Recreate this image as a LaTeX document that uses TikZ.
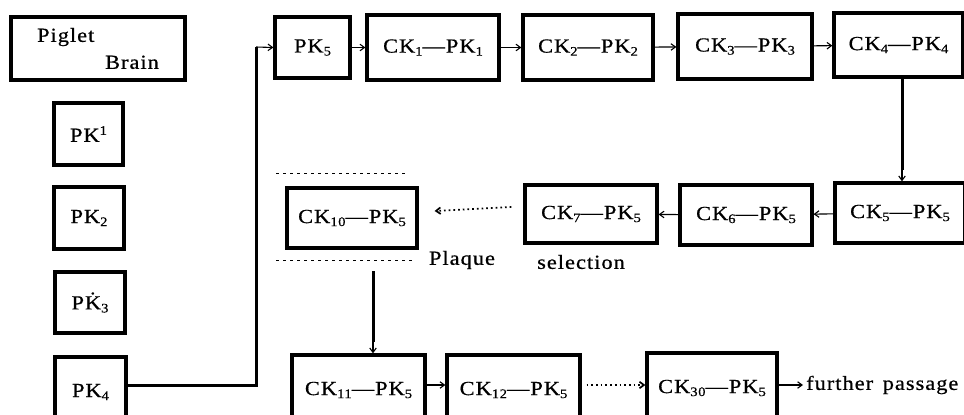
\documentclass[tikz,border=0pt]{standalone}
\usepackage{fontspec}
\setmainfont{Liberation Serif}[LetterSpace=5, FakeStretch=1.12, FakeBold=0.6]
\usetikzlibrary{arrows.meta}
\newcommand\lo[1]{\raisebox{-3pt}{\fontsize{13}{13}\selectfont #1}}
\newcommand\hi[1]{\raisebox{7pt}{\fontsize{13}{13}\selectfont #1}}
\begin{document}
\begin{tikzpicture}[x=1pt,y=-1pt,
  font=\fontsize{20}{24}\selectfont,
  box/.style={draw, line width=3.2pt, inner sep=0pt},
  arr/.style={line width=1.1pt, -{Straight Barb[length=4.5pt,width=6.5pt]}},
  heavy/.style={line width=3pt},
  dotarr/.style={line width=1.7pt, dash pattern=on 1.7pt off 3pt, -{Straight Barb[length=4.5pt,width=6.5pt]}},
  guide/.style={line width=0.9pt, dash pattern=on 3pt off 4pt}]
\useasboundingbox (0,0) rectangle (964,415);
\clip (0,0) rectangle (964,415);
% left column
\node[box, minimum width=174pt, minimum height=63pt, align=left] (brain) at (98,48.5) {Piglet\\[3pt]\hspace*{68pt}Brain};
\node[box, minimum width=69pt, minimum height=62pt] (pk1) at (88.5,134) {PK\hi1};
\node[box, minimum width=70pt, minimum height=62pt] (pk2) at (89,218) {PK\lo2};
\node[box, minimum width=70pt, minimum height=61pt] (pk3) at (90,302.5) {P\.K\lo3};
\node[box, minimum width=71pt, minimum height=70pt] (pk4) at (90.5,392) {PK\lo4};
% top row
\node[box, minimum width=75pt, minimum height=61pt] (pk5) at (312.5,47.5) {PK\lo5};
\node[box, minimum width=132pt, minimum height=65pt] (ck1) at (433,47.5) {CK\lo1—PK\lo1};
\node[box, minimum width=130pt, minimum height=65pt] (ck2) at (588,47.5) {CK\lo2—PK\lo2};
\node[box, minimum width=134pt, minimum height=65pt] (ck3) at (745,46.5) {CK\lo3—PK\lo3};
\node[box, minimum width=129pt, minimum height=64pt] (ck4) at (898.5,45) {CK\lo4—PK\lo4};
% middle row
\node[box, minimum width=130pt, minimum height=60pt] (ck5) at (900,213) {CK\lo5—PK\lo5};
\node[box, minimum width=132pt, minimum height=60pt] (ck6) at (746,215) {CK\lo6—PK\lo5};
\node[box, minimum width=132pt, minimum height=58pt] (ck7) at (591,214) {CK\lo7—PK\lo5};
\node[box, minimum width=130pt, minimum height=60pt] (ck10) at (352,218) {CK\lo{10}—PK\lo5};
\node (plaque) at (462,260) {Plaque};
\node (selection) at (581,262) {selection};
% bottom row
\node[box, minimum width=133pt, minimum height=70pt] (ck11) at (358.5,390) {CK\lo{11}—PK\lo5};
\node[box, minimum width=133pt, minimum height=70pt] (ck12) at (513.5,390) {CK\lo{12}—PK\lo5};
\node[box, minimum width=130pt, minimum height=70pt] (ck30) at (712,388) {CK\lo{30}—PK\lo5};
\node[anchor=west, inner sep=0pt] (further) at (806,385) {further\hspace{3pt} passage};
% connectors
\coordinate (c1) at (256,385);
\coordinate (c2) at (256,47);
\draw[heavy] ([yshift=7pt]pk4.east) -- (c1) -- (c2);
\draw[arr] (c2) -- (pk5.west);
\draw[arr] (pk5) -- (ck1);
\draw[arr] (ck1) -- (ck2);
\draw[arr] (ck2) -- (ck3);
\draw[arr] (ck3) -- (ck4);
\coordinate (c3) at (902,170);
\draw[heavy] (ck4.south -| c3) -- (c3);
\draw[arr] (c3) -- (ck5.north -| c3);
\draw[arr] (ck5) -- (ck6);
\draw[arr] (ck6) -- (ck7);
\draw[dotarr] ([yshift=7pt,xshift=-12pt]ck7.west) -- ([yshift=7pt,xshift=16pt]ck10.east);
\draw[guide] (276,173) -- (407,173);
\draw[guide] (276,260) -- (415,260);
\coordinate (c4) at (373,271);
\coordinate (c5) at (373,342);
\draw[heavy] (c4) -- (c5);
\draw[arr] (c5) -- (ck11.north -| c5);
\draw[arr] ([yshift=5pt]ck11.east) -- ([yshift=5pt]ck12.west);
\draw[dotarr] ([yshift=5pt,xshift=5pt]ck12.east) -- ([yshift=3pt]ck30.west);
\draw[arr] ([yshift=3pt]ck30.east) -- ([xshift=-3pt]further.west);
\end{tikzpicture}
\end{document}
